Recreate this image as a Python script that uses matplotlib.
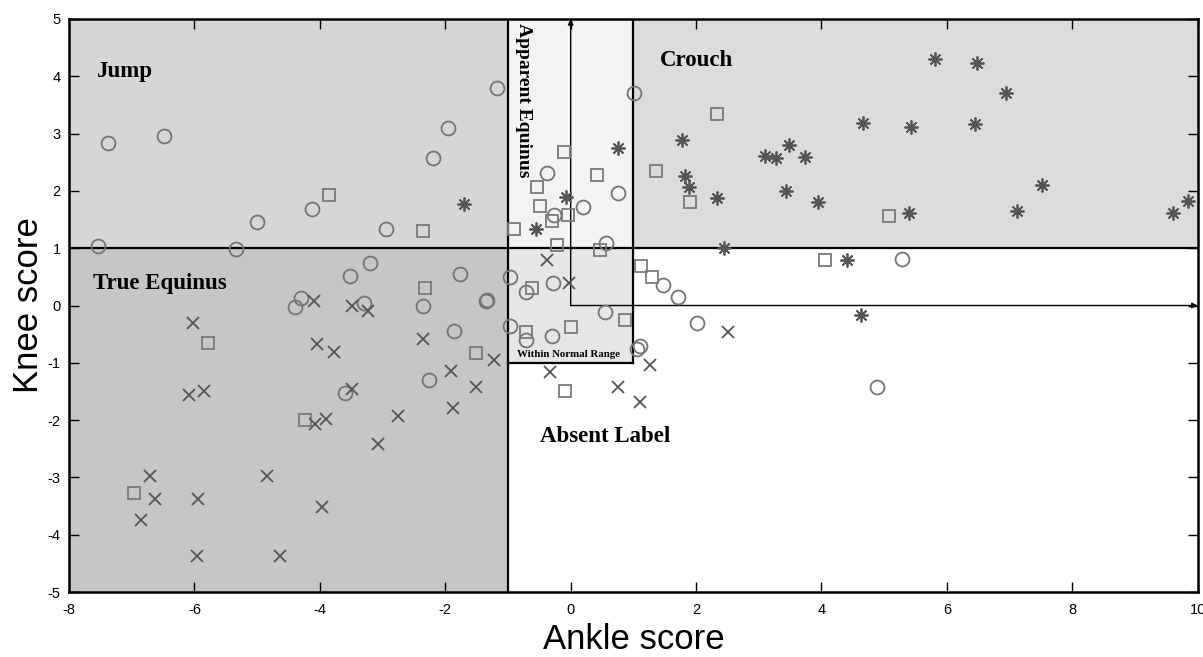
import matplotlib.pyplot as plt
import matplotlib as mpl
from matplotlib.patches import Rectangle

mpl.rcParams['font.family'] = ['Liberation Sans', 'DejaVu Sans']
mpl.rcParams['axes.unicode_minus'] = False
mpl.rcParams['xtick.direction'] = 'in'
mpl.rcParams['ytick.direction'] = 'in'

# Scores per patient, one array pair per group
circle_ankle = [-7.38, -6.48, -7.54, -5.33, -5.00, -4.12, -2.95, -3.52, -3.20, -4.30,
                -4.40, -3.30, -1.18, -1.96, -2.19, 1.01, -0.38, 0.75, 0.20, -0.26,
                0.56, -1.77, -2.35, -1.35, -1.33, -0.97, -0.71, -0.28, 0.55, -1.86,
                -2.26, -3.60, 2.01, -0.97, -0.71, -0.29, 1.05, 1.10, 1.47, 1.71,
                5.29, 4.89]
circle_knee = [2.83, 2.95, 1.03, 0.99, 1.46, 1.68, 1.33, 0.52, 0.75, 0.13,
               -0.03, 0.05, 3.79, 3.09, 2.57, 3.71, 2.32, 1.97, 1.72, 1.58,
               1.09, 0.55, 0.00, 0.07, 0.09, 0.49, 0.24, 0.40, -0.12, -0.44,
               -1.30, -1.53, -0.30, -0.36, -0.61, -0.53, -0.76, -0.71, 0.35, 0.14,
               0.81, -1.43]

square_ankle = [-3.85, -2.36, -0.10, -0.54, -0.49, 0.42, -0.05, -0.29, -0.91, -0.22,
                0.47, -2.32, -0.62, 0.87, -0.71, 0.00, -1.51, -0.09, -5.79, -4.24,
                -6.96, 1.36, 2.33, 1.91, 5.07, 4.06, 1.12, 1.30]
square_knee = [1.92, 1.30, 2.68, 2.07, 1.74, 2.27, 1.58, 1.47, 1.33, 1.06,
               0.97, 0.30, 0.30, -0.25, -0.46, -0.38, -0.83, -1.49, -0.66, -2.00,
               -3.28, 2.35, 3.35, 1.81, 1.56, 0.79, 0.69, 0.50]

cross_ankle = [-4.10, -3.48, -3.24, -6.02, -0.37, -0.02, -2.36, -1.22, -1.91, -1.51,
               -1.88, -2.75, 2.51, -0.33, 1.27, 0.76, 1.11, -4.04, -3.77, -3.49,
               -6.08, -5.85, -4.08, -3.91, -3.08, -6.71, -4.85, -6.63, -5.95, -6.85,
               -3.97, -5.96, -4.63]
cross_knee = [0.07, 0.00, -0.09, -0.31, 0.79, 0.40, -0.59, -0.95, -1.14, -1.43,
              -1.79, -1.93, -0.47, -1.16, -1.04, -1.43, -1.68, -0.68, -0.82, -1.46,
              -1.57, -1.49, -2.06, -1.98, -2.42, -2.98, -2.97, -3.38, -3.38, -3.74,
              -3.52, -4.37, -4.38]

star_ankle = [-1.70, 0.75, -0.07, -0.56, 5.81, 6.48, 6.94, 4.66, 5.42, 6.45,
              1.78, 3.48, 3.10, 3.28, 3.74, 1.82, 1.88, 2.33, 3.44, 3.95,
              5.39, 7.51, 7.12, 9.61, 9.84, 2.45, 4.40, 4.63]
star_knee = [1.78, 2.74, 1.89, 1.33, 4.31, 4.23, 3.71, 3.19, 3.11, 3.16,
             2.88, 2.80, 2.61, 2.57, 2.60, 2.26, 2.07, 1.88, 2.00, 1.81,
             1.62, 2.10, 1.65, 1.61, 1.82, 1.00, 0.79, -0.17]

fig = plt.figure(figsize=(12.03, 6.57), dpi=100)
ax = fig.add_axes([0.0574, 0.0989, 0.9382, 0.8722])
ax.set_xlim(-8, 10)
ax.set_ylim(-5, 5)

# shaded gait regions
regions = [
    (-8, 1, 7, 4, '#d6d6d6'),     # jump
    (-8, -5, 7, 6, '#c6c6c6'),    # true equinus
    (-1, 1, 2, 4, '#f3f3f3'),     # apparent equinus
    (-1, -1, 2, 2, '#e6e6e6'),    # within normal range
    (1, 1, 9, 4, '#dcdcdc'),      # crouch
]
for x0, y0, w, h, c in regions:
    ax.add_patch(Rectangle((x0, y0), w, h, facecolor=c, edgecolor='none', zorder=0))

lw = 1.6
ax.plot([-8, 10], [1, 1], color='black', lw=lw, zorder=1)
ax.plot([-1, -1], [-5, 5], color='black', lw=lw, zorder=1)
ax.plot([1, 1], [-1, 5], color='black', lw=lw, zorder=1)
ax.plot([-1, 1], [-1, -1], color='black', lw=lw, zorder=1)
ax.annotate('', xy=(0, 5), xytext=(0, 0),
            arrowprops=dict(arrowstyle='-|>', color='black', lw=1.0,
                            mutation_scale=8, shrinkA=0, shrinkB=0), zorder=1)
ax.annotate('', xy=(10, 0), xytext=(0, 0),
            arrowprops=dict(arrowstyle='-|>', color='black', lw=1.0,
                            mutation_scale=8, shrinkA=0, shrinkB=0), zorder=1)

ax.plot(circle_ankle, circle_knee, 'o', ms=10, mfc='none', mec='#747474', mew=1.3, zorder=3)
ax.plot(square_ankle, square_knee, 's', ms=8, mfc='none', mec='#7a7a7a', mew=1.3, zorder=3)
ax.plot(cross_ankle, cross_knee, 'x', ms=8, mec='#555555', mew=1.3, zorder=3)
ax.plot(star_ankle, star_knee, ls='none', marker=(8, 2, 0), ms=10, mec='#555555',
        mew=1.3, zorder=3)

lab = dict(family='Liberation Serif', fontweight='bold', color='black', zorder=4)
ax.text(-7.55, 4.08, 'Jump', fontsize=16.5, ha='left', va='center', **lab)
ax.text(1.43, 4.27, 'Crouch', fontsize=16.5, ha='left', va='center', **lab)
ax.text(-7.62, 0.39, 'True Equinus', fontsize=16.5, ha='left', va='center', **lab)
ax.text(-0.49, -2.28, 'Absent Label', fontsize=16.5, ha='left', va='center', **lab)
ax.text(-0.76, 4.93, 'Apparent Equinus', fontsize=14, rotation=270,
        ha='center', va='top', **lab)
ax.text(-0.86, -0.86, 'Within Normal Range', fontsize=7.8, ha='left', va='center', **lab)

ax.set_xticks(range(-8, 11, 2))
ax.set_yticks(range(-5, 6))
ax.tick_params(top=True, right=True, length=7, width=1, labelsize=10.5, colors='black')
ax.tick_params(axis='x', pad=8)
ax.tick_params(axis='y', pad=6)
for s in ax.spines.values():
    s.set_linewidth(1.8)
ax.set_xlabel('Ankle score', fontsize=25, labelpad=4)
ax.set_ylabel('Knee score', fontsize=25, labelpad=2)

fig.savefig('out.png', dpi=100)
